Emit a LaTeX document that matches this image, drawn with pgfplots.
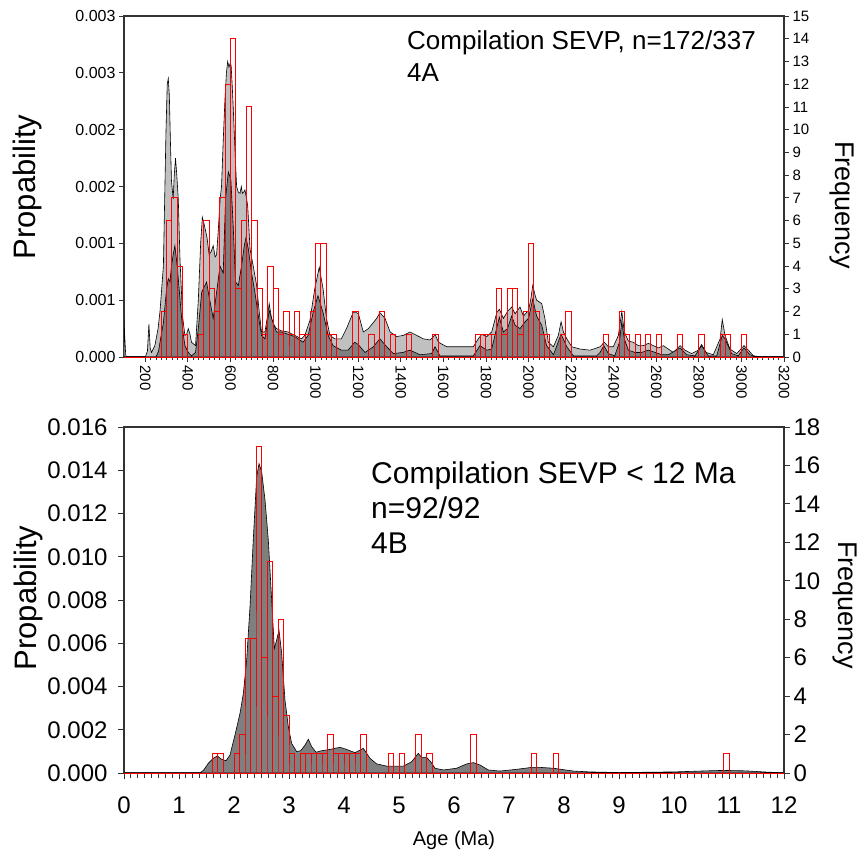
\documentclass[border=0pt]{standalone}
\usepackage{pgfplots}
\pgfplotsset{compat=1.18}
\usepackage{pgfplotstable}
\usepackage{fontspec}
\setmainfont{Liberation Sans}
\definecolor{axisgray}{HTML}{333333}
\definecolor{lightfill}{HTML}{C0C0C0}
\definecolor{darkfill}{HTML}{7F7F7F}
\definecolor{barred}{HTML}{FF0000}

% histogram outlines: bin edges (x) and counts (f)
\pgfplotstableread[row sep=\\]{
x f\\
275 0\\ 275 2\\ 300 2\\ 300 0\\ 300 6\\ 325 6\\ 325 0\\ 325 7\\ 350 7\\ 350 0\\
350 4\\ 375 4\\ 375 0\\ 375 1\\ 400 1\\ 400 0\\ 450 0\\ 450 1\\ 475 1\\ 475 0\\
475 6\\ 500 6\\ 500 0\\ 500 3\\ 525 3\\ 525 0\\ 525 2\\ 550 2\\ 550 0\\ 550 7\\
575 7\\ 575 0\\ 575 12\\ 600 12\\ 600 0\\ 600 14\\ 625 14\\ 625 0\\ 625 3\\ 650 3\\
650 0\\ 650 6\\ 675 6\\ 675 0\\ 675 11\\ 700 11\\ 700 0\\ 700 6\\ 725 6\\ 725 0\\
725 3\\ 750 3\\ 750 0\\ 750 1\\ 775 1\\ 775 0\\ 775 4\\ 800 4\\ 800 0\\ 800 3\\
825 3\\ 825 0\\ 825 1\\ 850 1\\ 850 0\\ 850 2\\ 875 2\\ 875 0\\ 875 1\\ 900 1\\
900 0\\ 900 2\\ 925 2\\ 925 0\\ 925 1\\ 950 1\\ 950 0\\ 950 1\\ 975 1\\ 975 0\\
975 2\\ 1000 2\\ 1000 0\\ 1000 5\\ 1025 5\\ 1025 0\\ 1025 5\\ 1050 5\\ 1050 0\\ 1050 1\\
1075 1\\ 1075 0\\ 1075 1\\ 1100 1\\ 1100 0\\ 1175 0\\ 1175 2\\ 1200 2\\ 1200 0\\ 1250 0\\
1250 1\\ 1275 1\\ 1275 0\\ 1300 0\\ 1300 2\\ 1325 2\\ 1325 0\\ 1350 0\\ 1350 1\\ 1375 1\\
1375 0\\ 1425 0\\ 1425 1\\ 1450 1\\ 1450 0\\ 1550 0\\ 1550 1\\ 1575 1\\ 1575 0\\ 1750 0\\
1750 1\\ 1775 1\\ 1775 0\\ 1775 1\\ 1800 1\\ 1800 0\\ 1800 1\\ 1825 1\\ 1825 0\\ 1825 1\\
1850 1\\ 1850 0\\ 1850 3\\ 1875 3\\ 1875 0\\ 1875 1\\ 1900 1\\ 1900 0\\ 1900 3\\ 1925 3\\
1925 0\\ 1925 3\\ 1950 3\\ 1950 0\\ 1950 1\\ 1975 1\\ 1975 0\\ 1975 2\\ 2000 2\\ 2000 0\\
2000 5\\ 2025 5\\ 2025 0\\ 2025 2\\ 2050 2\\ 2050 0\\ 2050 1\\ 2075 1\\ 2075 0\\ 2075 1\\
2100 1\\ 2100 0\\ 2150 0\\ 2150 1\\ 2175 1\\ 2175 0\\ 2175 2\\ 2200 2\\ 2200 0\\ 2350 0\\
2350 1\\ 2375 1\\ 2375 0\\ 2425 0\\ 2425 2\\ 2450 2\\ 2450 0\\ 2450 1\\ 2475 1\\ 2475 0\\
2500 0\\ 2500 1\\ 2525 1\\ 2525 0\\ 2550 0\\ 2550 1\\ 2575 1\\ 2575 0\\ 2600 0\\ 2600 1\\
2625 1\\ 2625 0\\ 2700 0\\ 2700 1\\ 2725 1\\ 2725 0\\ 2800 0\\ 2800 1\\ 2825 1\\ 2825 0\\
2900 0\\ 2900 1\\ 2925 1\\ 2925 0\\ 2925 1\\ 2950 1\\ 2950 0\\ 3000 0\\ 3000 1\\ 3025 1\\
3025 0\\
}\histA

\pgfplotstableread[row sep=\\]{
x f\\
1.6 0\\ 1.6 1\\ 1.7 1\\ 1.7 0\\ 1.7 1\\ 1.8 1\\ 1.8 0\\ 2.0 0\\ 2.0 1\\ 2.1 1\\
2.1 0\\ 2.1 2\\ 2.2 2\\ 2.2 0\\ 2.2 7\\ 2.3 7\\ 2.3 0\\ 2.3 7\\ 2.4 7\\ 2.4 0\\
2.4 17\\ 2.5 17\\ 2.5 0\\ 2.5 6\\ 2.6 6\\ 2.6 0\\ 2.6 11\\ 2.7 11\\ 2.7 0\\ 2.7 4\\
2.8 4\\ 2.8 0\\ 2.8 8\\ 2.9 8\\ 2.9 0\\ 2.9 3\\ 3.0 3\\ 3.0 0\\ 3.0 1\\ 3.1 1\\
3.1 0\\ 3.2 0\\ 3.2 1\\ 3.3 1\\ 3.3 0\\ 3.3 1\\ 3.4 1\\ 3.4 0\\ 3.4 1\\ 3.5 1\\
3.5 0\\ 3.5 1\\ 3.6 1\\ 3.6 0\\ 3.6 1\\ 3.7 1\\ 3.7 0\\ 3.7 2\\ 3.8 2\\ 3.8 0\\
3.8 1\\ 3.9 1\\ 3.9 0\\ 3.9 1\\ 4.0 1\\ 4.0 0\\ 4.0 1\\ 4.1 1\\ 4.1 0\\ 4.1 1\\
4.2 1\\ 4.2 0\\ 4.2 1\\ 4.3 1\\ 4.3 0\\ 4.3 2\\ 4.4 2\\ 4.4 0\\ 4.8 0\\ 4.8 1\\
4.9 1\\ 4.9 0\\ 5.0 0\\ 5.0 1\\ 5.1 1\\ 5.1 0\\ 5.3 0\\ 5.3 2\\ 5.4 2\\ 5.4 0\\
5.5 0\\ 5.5 1\\ 5.6 1\\ 5.6 0\\ 6.3 0\\ 6.3 2\\ 6.4 2\\ 6.4 0\\ 7.4 0\\ 7.4 1\\
7.5 1\\ 7.5 0\\ 7.8 0\\ 7.8 1\\ 7.9 1\\ 7.9 0\\ 10.9 0\\ 10.9 1\\ 11.0 1\\ 11.0 0\\
}\histB

\begin{document}
\begin{tikzpicture}
\path[use as bounding box] (0pt,0pt) rectangle (860pt,-856pt);
\pgfplotsset{
  every axis/.append style={
    scale only axis,
    axis line style={axisgray, line width=1.3pt},
    every tick/.style={axisgray, line width=0.8pt},
    tick align=outside,
    /pgf/number format/assume math mode=true,
    /pgf/number format/1000 sep={},
    scaled y ticks=false,
    scaled x ticks=false,
  },
}
% ---------------- Panel 4A ----------------
\begin{axis}[
  at={(124pt,-357pt)}, anchor=south west,
  width=660pt, height=341pt,
  xmin=100, xmax=3200, ymin=0, ymax=0.003,
  xtick={200,400,...,3200}, minor x tick num=7,
  xtick pos=bottom, ytick pos=left,
  ytick={0,0.0005,0.001,0.0015,0.002,0.0025,0.003},
  yticklabels={0.000,0.001,0.001,0.002,0.002,0.003,0.003},
  xticklabel style={rotate=-90, anchor=west, font=\fontsize{15}{15}\selectfont},
  yticklabel style={font=\fontsize{16}{16}\selectfont},
  major tick length=5pt, minor tick length=3pt,
]
\addplot[fill=lightfill, draw=black, line width=0.6pt] coordinates {
(100,0.00037) (103,0.0002) (108,0.00002) (112,0) (200,0) (210,0.00005) (217,0.00029) (223,0.00008) (229,0.00004) (245,0.0001) (260,0.00025) (269,0.0004) (285,0.0008) (297,0.00197) (303,0.0024) (308,0.00245) (313,0.0023) (318,0.0019) (323,0.00155) (331,0.00139) (336,0.0016) (342,0.00175) (348,0.0016) (355,0.00139) (363,0.00086) (375,0.00036) (386,0.00019) (394,0.0002) (402,0.00025) (410,0.0002) (417,0.00013) (436,0.0001) (449,0.0005) (460,0.001) (468,0.00123) (475,0.00118) (482,0.00112) (490,0.00105) (500,0.0009) (510,0.00093) (519,0.00098) (528,0.00088) (535,0.0009) (543,0.00112) (552,0.0014) (558,0.0015) (566,0.0019) (574,0.00226) (581,0.0025) (587,0.0026) (593,0.00255) (598,0.00258) (603,0.00257) (608,0.0024) (613,0.0022) (618,0.00197) (624,0.0017) (629,0.0015) (637,0.00145) (645,0.00144) (651,0.0015) (656,0.00144) (662,0.00145) (668,0.00147) (675,0.0014) (681,0.00133) (692,0.00095) (707,0.0008) (723,0.00063) (735,0.0004) (746,0.00022) (762,0.00022) (774,0.00036) (782,0.00047) (793,0.00034) (805,0.00028) (816,0.00025) (840,0.00023) (871,0.00022) (902,0.00019) (934,0.00016) (949,0.00019) (973,0.00032) (996,0.0006) (1017,0.00079) (1035,0.0006) (1051,0.00034) (1067,0.00019) (1090,0.00016) (1121,0.00016) (1145,0.00025) (1176,0.00039) (1192,0.00039) (1201,0.00038) (1224,0.00022) (1248,0.00025) (1287,0.00034) (1302,0.00039) (1326,0.00034) (1350,0.00022) (1381,0.00018) (1412,0.00019) (1443,0.00022) (1475,0.00019) (1506,0.00016) (1537,0.00015) (1550,0.00017) (1561,0.0002) (1577,0.00013) (1616,0.00009) (1741,0.00009) (1764,0.00016) (1780,0.0002) (1804,0.00018) (1827,0.00022) (1851,0.00039) (1863,0.00042) (1882,0.00034) (1905,0.00041) (1921,0.00044) (1937,0.00038) (1960,0.00044) (1976,0.00036) (2000,0.00041) (2010,0.0005) (2020,0.00063) (2030,0.00055) (2038,0.0005) (2062,0.00047) (2077,0.00034) (2093,0.00013) (2117,0.00009) (2140,0.00019) (2153,0.00031) (2164,0.00022) (2180,0.00016) (2203,0.00009) (2242,0.00007) (2289,0.00006) (2336,0.00009) (2356,0.00013) (2375,0.00009) (2398,0.00009) (2422,0.00019) (2438,0.0004) (2450,0.00022) (2469,0.00014) (2492,0.00013) (2516,0.0001) (2539,0.0001) (2563,0.00012) (2586,0.0001) (2610,0.00008) (2633,0.0001) (2657,0.00007) (2680,0.00004) (2712,0.0001) (2735,0.00006) (2766,0.00003) (2798,0.00006) (2813,0.00011) (2834,0.00004) (2868,0.00002) (2900,0.00016) (2910,0.00033) (2923,0.00019) (2946,0.00007) (2978,0.00003) (3012,0.0001) (3033,0.00006) (3056,0.00001) (3100,0) (3200,0)
} \closedcycle;
\addplot[fill=darkfill, draw=black, line width=0.6pt] coordinates {
(100,0) (250,0) (262,0.00005) (269,0.00013) (285,0.0003) (300,0.0006) (308,0.00069) (316,0.00066) (323,0.0008) (331,0.0009) (339,0.00098) (350,0.0008) (363,0.00051) (375,0.00025) (386,0.0001) (402,0.00004) (417,0.00001) (436,0.00004) (449,0.00025) (465,0.00057) (480,0.00063) (488,0.00066) (496,0.00057) (508,0.00045) (519,0.00034) (535,0.00057) (551,0.0008) (566,0.00074) (577,0.00139) (590,0.00163) (602,0.00156) (613,0.00115) (624,0.00066) (637,0.00063) (652,0.0008) (665,0.00098) (673,0.00105) (684,0.00095) (699,0.00074) (715,0.00057) (731,0.00036) (746,0.00019) (762,0.00016) (782,0.00041) (793,0.00034) (816,0.00022) (840,0.00022) (871,0.0002) (902,0.00018) (941,0.00013) (965,0.00019) (988,0.00039) (1011,0.00054) (1035,0.00039) (1059,0.00019) (1082,0.0001) (1121,0.00006) (1152,0.00006) (1184,0.00013) (1200,0.00011) (1232,0.00004) (1271,0.00009) (1302,0.00016) (1334,0.00009) (1365,0.00003) (1410,0.00004) (1443,0.00006) (1490,0.00002) (1545,0.00003) (1561,0.00009) (1584,0.00001) (1741,0.00001) (1772,0.0001) (1804,0.00006) (1827,0.00007) (1851,0.00026) (1863,0.00035) (1882,0.00022) (1901,0.00025) (1921,0.00036) (1937,0.00028) (1960,0.00025) (1984,0.00031) (2000,0.00034) (2020,0.00051) (2038,0.00036) (2062,0.00028) (2085,0.0001) (2117,0.00002) (2153,0.0002) (2180,0.00009) (2211,0.00001) (2320,0.00001) (2336,0.00004) (2354,0.0001) (2375,0.00003) (2405,0.00001) (2427,0.00013) (2438,0.00031) (2450,0.00016) (2469,0.00006) (2500,0.00004) (2530,0.00004) (2563,0.00006) (2595,0.00004) (2625,0.00002) (2657,0.00002) (2712,0.00008) (2743,0.00002) (2782,0.00001) (2813,0.0001) (2844,0.00001) (2884,0.00001) (2910,0.00019) (2923,0.00016) (2954,0.00003) (2985,0.00001) (3012,0.00008) (3040,0.00002) (3072,0) (3200,0)
} \closedcycle;
\addplot[color=barred, line width=0.9pt, line join=miter]
  table[x=x, y expr=\thisrow{f}*0.0002] {\histA};
\addplot[color=barred, line width=1pt] coordinates {(100,0) (3200,0)};
\end{axis}
\begin{axis}[
  at={(124pt,-357pt)}, anchor=south west,
  width=660pt, height=341pt,
  xmin=100, xmax=3200, ymin=0, ymax=15,
  axis x line=none, axis y line*=right,
  ytick={0,1,...,15},
  yticklabel style={font=\fontsize{15}{15}\selectfont},
  major tick length=5pt,
]
\addplot[draw=none] coordinates {(100,0)};
\end{axis}
\node[rotate=90, font=\fontsize{31}{31}\selectfont] at (27pt,-187pt) {Propability};
\node[rotate=-90, font=\fontsize{27}{27}\selectfont] at (842pt,-205pt) {Frequency};
\node[anchor=base west, font=\fontsize{26}{26}\selectfont, inner sep=0pt] at (407pt,-50pt) {Compilation SEVP, n=172/337};
\node[anchor=base west, font=\fontsize{26}{26}\selectfont, inner sep=0pt] at (407pt,-82pt) {4A};

% ---------------- Panel 4B ----------------
\begin{axis}[
  at={(124pt,-773pt)}, anchor=south west,
  width=660pt, height=346pt,
  xmin=0, xmax=12, ymin=0, ymax=0.016,
  xtick={0,1,...,12}, minor x tick num=7,
  xtick pos=bottom, ytick pos=left,
  ytick={0,0.002,0.004,0.006,0.008,0.010,0.012,0.014,0.016},
  yticklabel style={/pgf/number format/fixed, /pgf/number format/fixed zerofill, /pgf/number format/precision=3, font=\fontsize{24}{24}\selectfont, xshift=-7pt},
  xticklabel style={font=\fontsize{24}{24}\selectfont, yshift=-14pt},
  major tick length=6pt, minor tick length=5pt,
]
\addplot[fill=darkfill, draw=black, line width=0.6pt] coordinates {
(0,0) (1.38,0) (1.45,0.00014) (1.533,0.00045) (1.624,0.00068) (1.697,0.00079) (1.776,0.00063) (1.855,0.00057) (1.927,0.00083) (2.018,0.00176) (2.109,0.00276) (2.17,0.00368) (2.23,0.00522) (2.291,0.00769) (2.35,0.01077) (2.412,0.0137) (2.455,0.01431) (2.503,0.01393) (2.564,0.01262) (2.624,0.01077) (2.685,0.008) (2.733,0.00576) (2.776,0.00615) (2.818,0.00661) (2.867,0.00553) (2.927,0.00337) (2.988,0.00214) (3.048,0.00137) (3.139,0.00099) (3.212,0.00103) (3.291,0.00129) (3.352,0.00156) (3.412,0.00122) (3.491,0.00096) (3.594,0.00103) (3.745,0.00109) (3.927,0.00119) (4.048,0.00109) (4.2,0.00094) (4.291,0.00106) (4.351,0.00114) (4.473,0.00068) (4.594,0.00042) (4.776,0.00032) (5.079,0.00032) (5.23,0.00052) (5.351,0.00091) (5.412,0.00072) (5.503,0.00072) (5.576,0.00052) (5.654,0.00022) (5.806,0.00014) (6.048,0.00022) (6.23,0.00042) (6.351,0.00048) (6.473,0.00037) (6.624,0.00014) (6.836,0.00009) (7.139,0.00017) (7.412,0.00026) (7.564,0.00026) (7.806,0.00022) (8.17,0.00009) (8.473,0.00005) (9,0.00002) (10,0.00005) (10.6,0.0001) (10.9,0.00012) (11.3,0.0001) (11.7,0.00004) (12,0.00001)
} \closedcycle;
\addplot[color=barred, line width=0.9pt, line join=miter]
  table[x=x, y expr=\thisrow{f}*0.016/18] {\histB};
\addplot[color=barred, line width=1pt] coordinates {(0,0) (12,0)};
\end{axis}
\begin{axis}[
  at={(124pt,-773pt)}, anchor=south west,
  width=660pt, height=346pt,
  xmin=0, xmax=12, ymin=0, ymax=18,
  axis x line=none, axis y line*=right,
  ytick={0,2,...,18},
  yticklabel style={font=\fontsize{24}{24}\selectfont},
  major tick length=6pt,
]
\addplot[draw=none] coordinates {(0,0)};
\end{axis}
\node[rotate=90, font=\fontsize{31}{31}\selectfont] at (28pt,-598pt) {Propability};
\node[rotate=-90, font=\fontsize{27}{27}\selectfont] at (845pt,-605pt) {Frequency};
\node[anchor=base west, font=\fontsize{30}{30}\selectfont, inner sep=0pt] at (371pt,-483pt) {Compilation SEVP < 12 Ma};
\node[anchor=base west, font=\fontsize{30}{30}\selectfont, inner sep=0pt] at (371pt,-518pt) {n=92/92};
\node[anchor=base west, font=\fontsize{30}{30}\selectfont, inner sep=0pt] at (371pt,-553pt) {4B};
\node[font=\fontsize{20}{20}\selectfont] at (454pt,-840pt) {Age (Ma)};
\end{tikzpicture}
\end{document}
